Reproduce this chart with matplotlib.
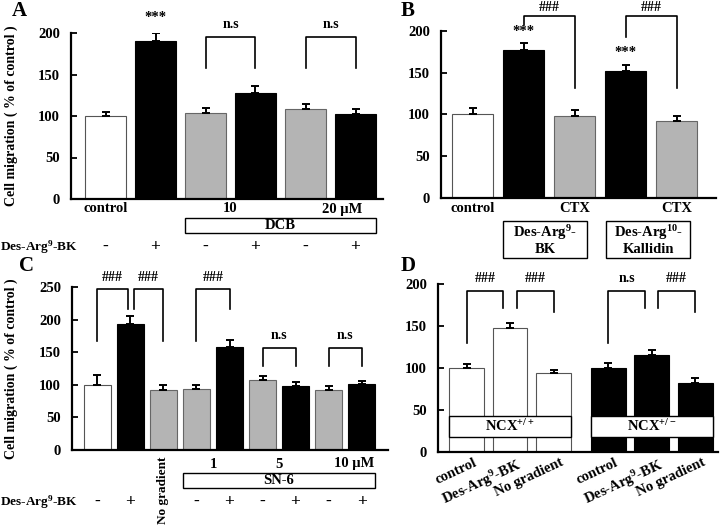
import matplotlib
matplotlib.use('Agg')
import matplotlib.pyplot as plt
from matplotlib.patches import Rectangle
from matplotlib import transforms
import numpy as np

plt.rcParams['font.family'] = ['Liberation Serif', 'DejaVu Serif']
plt.rcParams['font.weight'] = 'bold'
plt.rcParams['axes.labelweight'] = 'bold'
plt.rcParams['mathtext.fontset'] = 'custom'
plt.rcParams['mathtext.rm'] = 'Liberation Serif:bold'
plt.rcParams['mathtext.it'] = 'Liberation Serif:italic:bold'
plt.rcParams['mathtext.bf'] = 'Liberation Serif:bold'
plt.rcParams['mathtext.default'] = 'rm'

# ---------------- data ----------------
a_vals = [100, 190, 104, 128, 108, 103]
a_err = [5, 10, 6, 8, 6, 6]
a_kind = ['w', 'k', 'g', 'k', 'g', 'k']
a_drug = ['-', '+', '-', '+', '-', '+']
a_doses = ['10', '20 μM']

b_vals = [100, 177, 98, 152, 92]
b_err = [8, 9, 7, 7, 6]
b_kind = ['w', 'k', 'g', 'k', 'g']
b_labels = ['control', '', 'CTX', '', 'CTX']
b_boxes = ['Des-Arg$^{9}$-\nBK', 'Des-Arg$^{10}$-\nKallidin']

c_vals = [100, 194, 92, 94, 158, 107, 98, 92, 101]
c_err = [15, 12, 8, 6, 11, 6, 7, 6, 5]
c_kind = ['w', 'k', 'g', 'g', 'k', 'g', 'k', 'g', 'k']
c_drug = ['-', '+', '', '-', '+', '-', '+', '-', '+']
c_doses = ['1', '5', '10 μM']

d_vals = [100, 148, 94, 100, 115, 82]
d_err = [5, 6, 4, 6, 6, 6]
d_kind = ['w', 'w', 'w', 'k', 'k', 'k']
d_labels = ['control', 'Des-Arg$^{9}$-BK', 'No gradient',
            'control', 'Des-Arg$^{9}$-BK', 'No gradient']
d_groups = ['NCX$^{+/+}$', 'NCX$^{+/-}$']

ylabel = 'Cell migration ( % of control )'
drug_label = 'Des-Arg$^{9}$-BK'

# ---------------- style ----------------
W, H = 720, 530
FS = 10.5
face = {'w': 'white', 'k': 'black', 'g': '#b4b4b4'}
edge = {'w': '#555555', 'k': 'black', 'g': '#666666'}

fig = plt.figure(figsize=(7.2, 5.3), dpi=100)


def fy(py):
    return 1 - py / H


def fx(px):
    return px / W


def make_ax(l, r, b, t):
    ax = fig.add_axes([fx(l), fy(b), (r - l) / W, (b - t) / H])
    for s in ['top', 'right']:
        ax.spines[s].set_visible(False)
    for s in ['left', 'bottom']:
        ax.spines[s].set_linewidth(1.6)
    ax.tick_params(axis='y', direction='in', length=4, width=1.3,
                   labelsize=FS, pad=8)
    ax.set_xticks([])
    return ax


def bars(ax, x, vals, errs, kinds, width):
    ax.bar(x, vals, width, color=[face[k] for k in kinds],
           edgecolor=[edge[k] for k in kinds], linewidth=0.8, zorder=2)
    ax.errorbar(x, vals, yerr=[np.zeros(len(vals)), errs], fmt='none',
                ecolor='black', elinewidth=1.4, capsize=3, capthick=1.4,
                zorder=3)


def bracket(ax, x1, x2, ytop, y1, y2, text, ty):
    ax.plot([x1, x1, x2, x2], [y1, ytop, ytop, y2], color='black', lw=1.2,
            clip_on=False, zorder=4)
    ax.text((x1 + x2) / 2, ty, text, ha='center', va='center', fontsize=FS - 0.5,
            clip_on=False)


def blend(ax):
    return transforms.blended_transform_factory(ax.transData, fig.transFigure)


def box(ax, x0, x1, ptop, pbot, text, fs=FS):
    tr = blend(ax)
    ax.add_patch(Rectangle((x0, fy(pbot)), x1 - x0, (pbot - ptop) / H,
                           transform=tr, facecolor='white', edgecolor='black',
                           lw=1.0, clip_on=False, zorder=5))
    ax.text((x0 + x1) / 2, fy((ptop + pbot) / 2), text, transform=tr,
            ha='center', va='center', fontsize=fs, zorder=6,
            linespacing=1.1)


def under(ax, x, py, text, **kw):
    kw.setdefault('ha', 'center')
    kw.setdefault('va', 'center')
    kw.setdefault('fontsize', FS)
    ax.text(x, fy(py), text, transform=blend(ax), **kw)


# ---------------- Panel A ----------------
axA = make_ax(71, 383, 199, 33)
xa = np.arange(len(a_vals))
bars(axA, xa, a_vals, a_err, a_kind, 0.82)
axA.set_ylim(0, 200)
axA.set_xlim(-0.69, 5.55)
axA.set_yticks([0, 50, 100, 150, 200])
axA.text(1, 219, '***', ha='center', va='center', fontsize=FS)
bracket(axA, 2, 3, 195, 158, 158, 'n.s', 210)
bracket(axA, 4, 5, 195, 158, 158, 'n.s', 210)
under(axA, 0, 209, 'control')
under(axA, 2.5, 209, a_doses[0])
under(axA, 4.33, 209, a_doses[1], ha='left')
box(axA, 2 - 0.41, 5 + 0.41, 218, 233, 'DCB')
fig.text(fx(78), fy(247), drug_label, ha='right', va='center', fontsize=FS - 1)
for x, s in zip(xa, a_drug):
    under(axA, x, 247, s, fontsize=FS + 2)
axA.set_ylabel(ylabel, fontsize=FS - 0.5)
axA.yaxis.set_label_coords(fx(18), 0.5 * (fy(199) + fy(33)),
                           transform=fig.transFigure)

# ---------------- Panel B ----------------
axB = make_ax(441, 716, 198, 31)
xb = np.arange(len(b_vals))
bars(axB, xb, b_vals, b_err, b_kind, 0.8)
axB.set_ylim(0, 200)
axB.set_xlim(-0.62, 4.77)
axB.set_yticks([0, 50, 100, 150, 200])
axB.text(1, 199, '***', ha='center', va='center', fontsize=FS, clip_on=False)
axB.text(3, 174, '***', ha='center', va='center', fontsize=FS)
bracket(axB, 1, 2, 218, 207, 132, '###', 228)
bracket(axB, 3, 4, 218, 193, 132, '###', 228)
for x, s in zip(xb, b_labels):
    if s:
        under(axB, x, 209, s)
box(axB, 0.6, 2.24, 221, 258, b_boxes[0])
box(axB, 2.62, 4.26, 221, 258, b_boxes[1])

# ---------------- Panel C ----------------
axC = make_ax(72, 388, 450, 287)
xc = np.arange(len(c_vals))
bars(axC, xc, c_vals, c_err, c_kind, 0.82)
axC.set_ylim(0, 250)
axC.set_xlim(-0.77, 8.8)
axC.set_yticks([0, 50, 100, 150, 200, 250])
bracket(axC, 0, 0.92, 247, 167, 217, '###', 265)
bracket(axC, 1.1, 2, 247, 217, 167, '###', 265)
bracket(axC, 3, 4, 247, 167, 217, '###', 265)
bracket(axC, 5, 6, 156, 129, 129, 'n.s', 176)
bracket(axC, 7, 8, 156, 129, 129, 'n.s', 176)
under(axC, 3.5, 464, c_doses[0])
under(axC, 5.5, 464, c_doses[1])
under(axC, 7.17, 464, c_doses[2], ha='left')
box(axC, 3 - 0.41, 8 + 0.41, 473, 488, 'SN-6')
under(axC, 2, 457, 'No gradient', rotation=90, va='top', fontsize=FS - 1)
fig.text(fx(78), fy(502), drug_label, ha='right', va='center', fontsize=FS - 1)
for x, s in zip(xc, c_drug):
    if s:
        under(axC, x, 502, s, fontsize=FS + 2)
axC.set_ylabel(ylabel, fontsize=FS - 0.5)
axC.yaxis.set_label_coords(fx(18), 0.5 * (fy(450) + fy(287)),
                           transform=fig.transFigure)

# ---------------- Panel D ----------------
axD = make_ax(438, 718, 452, 284)
xd = np.array([0, 1, 2, 3.26, 4.26, 5.26])
bars(axD, xd, d_vals, d_err, d_kind, 0.8)
axD.set_ylim(0, 200)
axD.set_xlim(-0.655, 5.78)
axD.set_yticks([0, 50, 100, 150, 200])
bracket(axD, 0, 0.85, 192, 130, 171, '###', 206)
bracket(axD, 1.15, 2, 192, 171, 167, '###', 206)
bracket(axD, 3.26, 4.1, 192, 130, 171, 'n.s', 206)
bracket(axD, 4.4, 5.26, 192, 171, 167, '###', 206)
for g, (x0, x1) in zip(d_groups, [(xd[0], xd[2]), (xd[3], xd[5])]):
    axD.add_patch(Rectangle((x0 - 0.4, 18), x1 - x0 + 0.8, 25,
                            facecolor='white', edgecolor='black', lw=1.0,
                            zorder=5))
    axD.text((x0 + x1) / 2, 30.5, g, ha='center', va='center',
             fontsize=FS, zorder=6)
for x, s in zip(xd, d_labels):
    under(axD, x + 0.15, 456, s, ha='right', va='top', rotation=25,
          rotation_mode='anchor')

# ---------------- panel letters ----------------
for lab, px, py in [('A', 12, 11), ('B', 401, 11), ('C', 19, 266),
                    ('D', 401, 266)]:
    fig.text(fx(px), fy(py), lab, ha='left', va='center', fontsize=15)

fig.savefig('out.png', dpi=100)
